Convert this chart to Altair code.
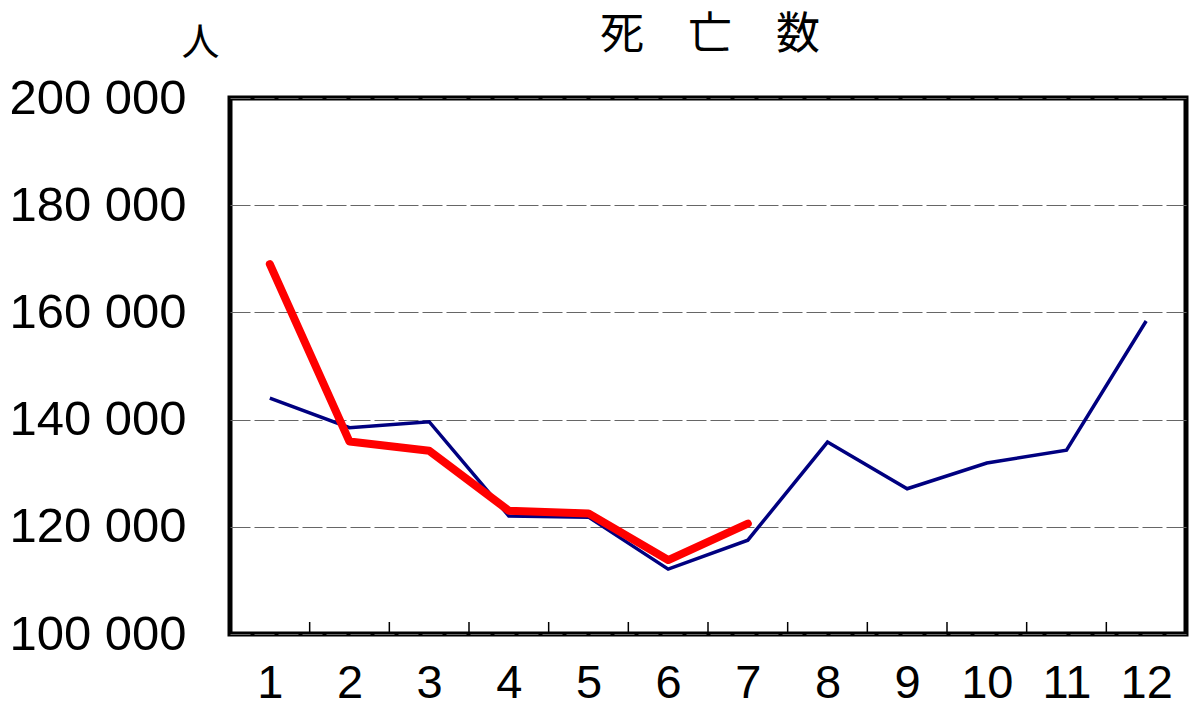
import altair as alt
import pandas as pd

months = list(range(1, 13))
prev_year = [144000, 138500, 139600, 122000, 121800, 112100, 117500, 135800, 127100, 131900, 134300, 158400]
this_year = [169000, 135900, 134200, 123000, 122500, 113800, 120600]
y_ticks = [100000, 120000, 140000, 160000, 180000, 200000]
title_text = ["死　亡　数"]

df_prev = pd.DataFrame({"month": months, "deaths": prev_year})
df_cur = pd.DataFrame({"month": months[:len(this_year)], "deaths": this_year})
bounds = pd.DataFrame({"b": [m + 0.5 for m in months[:-1]]})
df_title = pd.DataFrame({"t": title_text})

FONT = "Liberation Sans"

x_scale = alt.Scale(domain=[0.5, 12.5], nice=False, zero=False)
y_scale = alt.Scale(domain=[100000, 200000], nice=False, zero=False)

x_axis = alt.Axis(values=months, title=None, ticks=False, grid=False, domain=False,
                  labelFontSize=47, labelFont=FONT, labelColor="black", labelPadding=26,
                  format="d")
y_axis = alt.Axis(values=y_ticks, title="人", titleAngle=0, titleX=-30, titleY=-55,
                  titleAlign="center", titleBaseline="middle", titleFontSize=38,
                  titleFont="Noto Sans CJK JP", titleFontWeight="normal", titleColor="black",
                  ticks=False, domain=False, grid=True, gridDash=[20, 4], gridColor="#666666",
                  gridWidth=1.2, labelFontSize=49, labelFont=FONT, labelColor="black",
                  labelPadding=44,
                  labelExpr="replace(format(datum.value, ','), ',', ' ')")

base_prev = alt.Chart(df_prev).mark_line(color="#000080", strokeWidth=3.5).encode(
    x=alt.X("month:Q", scale=x_scale, axis=x_axis),
    y=alt.Y("deaths:Q", scale=y_scale, axis=y_axis),
)

cur = alt.Chart(df_cur).mark_line(color="#ff0000", strokeWidth=8, strokeCap="round",
                                  strokeJoin="round").encode(
    x=alt.X("month:Q", scale=x_scale),
    y=alt.Y("deaths:Q", scale=y_scale),
)

ticks = alt.Chart(bounds).mark_rule(color="black", strokeWidth=1.5).encode(
    x=alt.X("b:Q", scale=x_scale),
    y=alt.value(536),
    y2=alt.value(524),
)

title = alt.Chart(df_title).mark_text(font="Noto Sans CJK JP", fontSize=44, color="black",
                                      align="center", baseline="middle").encode(
    text="t:N",
    x=alt.value(480),
    y=alt.value(-62),
)

chart = alt.layer(base_prev, ticks, cur, title).properties(
    width=956,
    height=536,
    autosize=alt.AutoSizeParams(type="none"),
    padding={"left": 222, "top": 90, "right": 6, "bottom": 73},
    background="white",
).configure_view(stroke="black", strokeWidth=5)

chart.save("out.html", embed_options={"renderer": "svg", "actions": False})
